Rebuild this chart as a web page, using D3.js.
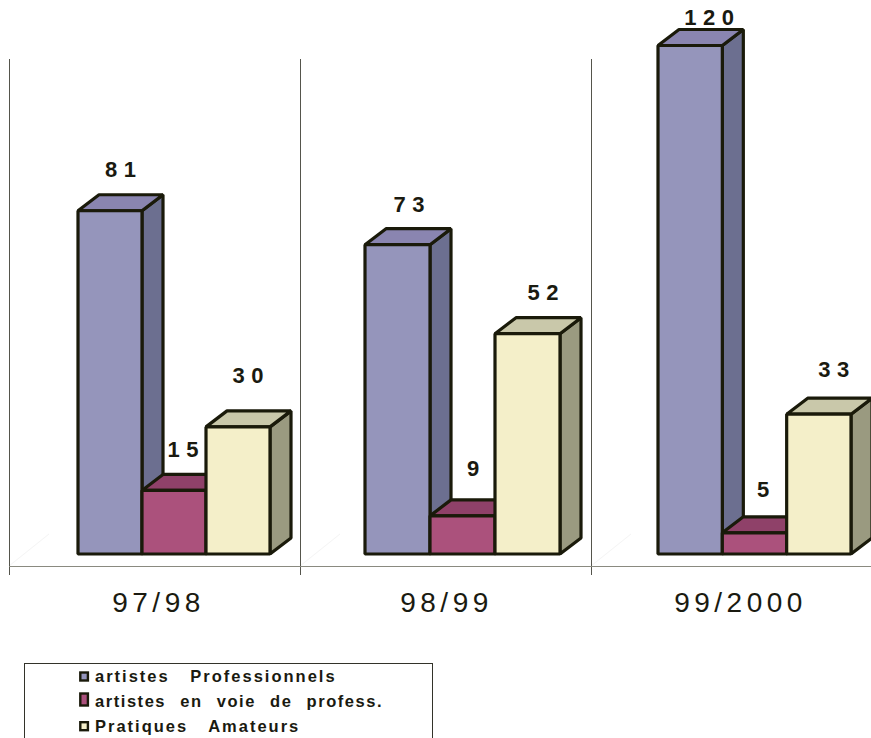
<!DOCTYPE html>
<html><head><meta charset="utf-8">
<script src="https://cdn.jsdelivr.net/npm/d3@7/dist/d3.min.js"></script>
<style>html,body{margin:0;padding:0;background:#fff;overflow:hidden}svg{display:block}text{font-family:"Liberation Sans",Arial,sans-serif;fill:#1a1a10}</style>
</head><body><svg id="c" width="871" height="738"></svg>
<script>
const categories = ["97/98", "98/99", "99/2000"];
const seriesNames = ["artistes Professionnels", "artistes en voie de profess.", "Pratiques Amateurs"];
const professionnels = [81, 73, 120];
const enVoie = [15, 9, 5];
const amateurs = [30, 52, 33];
const seriesValues = [professionnels, enVoie, amateurs];
const frontColors = ["#9595bb", "#ab517c", "#f4efc9"];
const topColors = ["#8a85b0", "#8f4169", "#c9c8aa"];
const sideColors = ["#6c6f90", "#7d3b5b", "#9a9a80"];

const svg = d3.select("#c");
const y = d3.scaleLinear().domain([0, 120]).range([554, 45.5]);
const groupX = d3.scaleOrdinal().domain(categories).range([78, 365, 658]);
const groupW = d3.scaleOrdinal().domain(categories).range([192, 195, 193]);
const barOf = cat => d3.scaleBand().domain(d3.range(3)).range([0, groupW(cat)]);
const panel = d3.scaleBand().domain(categories).range([9, 882]);
const labelX = d3.scaleOrdinal().domain(categories).range([158, 446, 740]);
const depth = {x: 21, y: -16};
// value-label placement relative to each bar (per series, per category)
const labelShift = [[13.75, 14.75, 22.25], [12.25, 13.75, 11.75], [13.25, 18.75, 18.25]];
const labelRaise = [[33.4, 32.4, 20.5], [33.4, 39.8, 35.8], [43.8, 33.4, 37]];
const ink = "#1a1a0a";

// frame
const frame = svg.append("g");
frame.selectAll("line.floor").data(categories).join("line")
  .attr("x1", d => panel(d)).attr("x2", d => panel(d) + 40)
  .attr("y1", 566).attr("y2", 534).attr("stroke", "#f4f4f4").attr("stroke-width", 1);
frame.selectAll("line.sep").data(categories).join("line")
  .attr("x1", d => panel(d) + .5).attr("x2", d => panel(d) + .5)
  .attr("y1", 59).attr("y2", 575).attr("stroke", "#55554c").attr("stroke-width", 1);
frame.append("line").attr("x1", 9).attr("x2", 871).attr("y1", 566.5).attr("y2", 566.5)
  .attr("stroke", "#8a8a80").attr("stroke-width", 1);

// bars
const groups = svg.selectAll("g.group").data(categories).join("g").attr("class", "group");
groups.each(function(cat, ci) {
  const g = d3.select(this), barX = barOf(cat);
  seriesValues.forEach((vals, si) => {
    const x0 = groupX(cat) + barX(si), x1 = x0 + barX.bandwidth();
    const yt = y(vals[ci]), yb = y(0);
    const b = g.append("g").attr("stroke", ink).attr("stroke-width", 3.2).attr("stroke-linejoin", "bevel");
    const P = pts => pts.map(p => p.join(",")).join(" ");
    b.append("polygon").attr("points", P([[x1, yb], [x1 + depth.x, yb + depth.y], [x1 + depth.x, yt + depth.y], [x1, yt]])).attr("fill", sideColors[si]);
    b.append("polygon").attr("points", P([[x0, yt], [x0 + depth.x, yt + depth.y], [x1 + depth.x, yt + depth.y], [x1, yt]])).attr("fill", topColors[si]);
    b.append("rect").attr("x", x0).attr("y", yt).attr("width", x1 - x0).attr("height", yb - yt).attr("fill", frontColors[si]);
  });
});
// value labels
groups.each(function(cat, ci) {
  const g = d3.select(this), barX = barOf(cat);
  seriesValues.forEach((vals, si) => {
    g.append("text").text(vals[ci])
      .attr("x", groupX(cat) + barX(si) + barX.bandwidth() / 2 + labelShift[si][ci])
      .attr("y", y(vals[ci]) - labelRaise[si][ci])
      .attr("text-anchor", "middle").attr("font-size", 22).attr("font-weight", "bold")
      .attr("letter-spacing", 6.5);
  });
});

// category axis
const axis = d3.axisBottom(labelX).tickSize(0).tickPadding(0);
const ax = svg.append("g").attr("transform", "translate(0,593)").call(axis);
ax.select(".domain").remove();
ax.selectAll("text").attr("font-size", 28).attr("letter-spacing", 4.5).attr("dy", 19).style("font-family", '"Liberation Sans",Arial,sans-serif');

// legend
const lg = svg.append("g");
lg.append("rect").attr("x", 24.5).attr("y", 663.5).attr("width", 408).attr("height", 90)
  .attr("fill", "#fff").attr("stroke", "#33332a").attr("stroke-width", 1);
const legendY = d3.scaleOrdinal().domain(seriesNames).range([682, 707, 731.7]);
const swatchH = d3.scaleOrdinal().domain(seriesNames).range([8, 12, 8]);
const wordGap = d3.scaleOrdinal().domain(seriesNames).range([14, 8, 14]);
const letterGap = d3.scaleOrdinal().domain(seriesNames).range([2, 1.55, 2]);
const items = lg.selectAll("g.item").data(seriesNames).join("g").attr("class", "item");
items.append("rect").attr("x", 80.3).attr("y", d => legendY(d) - 1.5 - swatchH(d)).attr("width", 7.6).attr("height", d => swatchH(d))
  .attr("fill", (d, i) => frontColors[i]).attr("stroke", ink).attr("stroke-width", 2.4);
items.append("text").text(d => d).attr("x", 95).attr("y", d => legendY(d))
  .attr("font-size", 16.5).attr("font-weight", "bold").attr("letter-spacing", d => letterGap(d)).attr("word-spacing", d => wordGap(d));
</script></body></html>
